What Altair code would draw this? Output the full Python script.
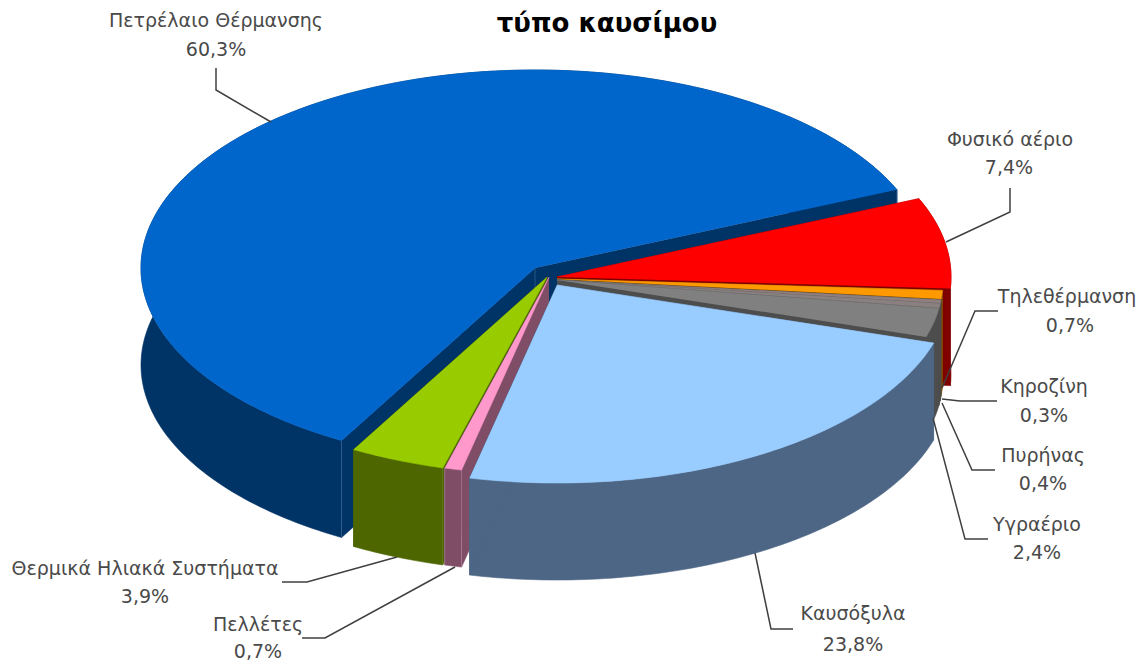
import math
import altair as alt
import pandas as pd

# ---- values ----
names = ["Πετρέλαιο Θέρμανσης", "Φυσικό αέριο", "Τηλεθέρμανση", "Κηροζίνη", "Πυρήνας",
         "Υγραέριο", "Καυσόξυλα", "Πελλέτες", "Θερμικά Ηλιακά Συστήματα"]
shares = [60.3, 7.4, 0.7, 0.3, 0.4, 2.4, 23.8, 0.7, 3.9]
share_text = ["60,3%", "7,4%", "0,7%", "0,3%", "0,4%", "2,4%", "23,8%", "0,7%", "3,9%"]
top_colors = ["#0066CC", "#FF0000", "#FF9900", "#8F7F7F", "#8A8080", "#808080", "#99CCFF", "#FF99CC", "#99CC00"]
wall_colors = ["#003366", "#800000", "#805000", "#4D4D4D", "#4D4D4D", "#4D4D4D", "#4D6685", "#804D66", "#4D6600"]
title_text = "τύπο καυσίμου"

# ---- layout of the 3-D pie (pixels of the page) ----
RX, RY, DEPTH, START = 394, 198, 97, 240.6
centers = [(535, 268), (557, 277), (557, 279), (557, 280), (557, 280), (557, 280), (557, 285), (549, 277), (547, 277)]
radius_scale = [1, 1, .98, .98, .98, .98, 1, 1, 1]
draw_order = [0, 1, 2, 3, 4, 5, 8, 7, 6]
seam_colors = {0: "#3F6F9F", 7: "#B08AA0"}

label_pos = [(216, 21, 216, 50), (1010, 140, 1009, 168), (1067, 297, 1070, 326), (1044, 387, 1044, 416),
             (1043, 456, 1043, 484), (1037, 525, 1037, 553), (853, 614, 853, 645), (258, 625, 258, 652),
             (145, 569, 145, 597)]
leaders = [[(216, 68), (216, 90), (271, 122)],
           [(1010, 188), (1010, 212), (946, 242)],
           [(998, 311), (975, 311), (942, 388)],
           [(997, 401), (960, 401), (942, 399)],
           [(995, 470), (972, 470), (942, 403)],
           [(988, 539), (965, 539), (933, 418)],
           [(793, 629), (771, 629), (755, 553)],
           [(302, 638), (325, 638), (455, 567)],
           [(282, 582), (307, 582), (397, 557)]]

# ---- build the slices from the shares ----
total = sum(shares)
angles = []
a = START
for s in shares:
    b = a - s / total * 360
    angles.append((a, b))
    a = b

rows = []
gid = 0
def poly(points, color):
    global gid
    gid += 1
    for k, (px, py) in enumerate(points):
        rows.append({"g": gid, "k": k, "px": px, "py": py, "c": color})

for i in draw_order:
    cx, cy = centers[i]
    q = radius_scale[i]
    a0, a1 = angles[i]
    n = max(2, int(abs(a0 - a1)) + 2)
    arc = []
    for j in range(n + 1):
        t = math.radians(a0 + (a1 - a0) * j / n)
        arc.append((cx + q * RX * math.cos(t), cy - q * RY * math.sin(t)))
    low = [(x, y + DEPTH) for x, y in arc]
    tip = (cx, cy)
    tipl = (cx, cy + DEPTH)
    poly(arc + low[::-1], wall_colors[i])
    poly([tip, arc[0], low[0], tipl], wall_colors[i])
    poly([tip, arc[-1], low[-1], tipl], wall_colors[i])
    if i in seam_colors:
        poly([arc[-1], low[-1]], seam_colors[i])
        poly([arc[0], low[0]], seam_colors[i])
        if i == 0:
            poly([tip, (cx, cy + 22)], seam_colors[i])
    poly([tip] + arc, top_colors[i])

poly_df = pd.DataFrame(rows)

lead_rows = []
for i, pts in enumerate(leaders):
    for k, (px, py) in enumerate(pts):
        lead_rows.append({"g": i, "k": k, "px": px, "py": py})
lead_df = pd.DataFrame(lead_rows)

text_rows = []
for i, (nx, ny, vx, vy) in enumerate(label_pos):
    text_rows.append({"t": names[i], "px": nx, "py": ny})
    text_rows.append({"t": share_text[i], "px": vx, "py": vy})
text_df = pd.DataFrame(text_rows)
title_df = pd.DataFrame([{"t": title_text, "px": 607, "py": 32}])

W, H = 1131, 654
X = alt.X("px:Q", axis=None, scale=alt.Scale(domain=[8, 8 + W], nice=False, zero=False))
Y = alt.Y("py:Q", axis=None, scale=alt.Scale(domain=[8 + H, 8], nice=False, zero=False))

pie = alt.Chart(poly_df).mark_line(filled=True, strokeWidth=0.6, interpolate="linear").encode(
    x=X, y=Y, detail="g:N", order="k:Q",
    fill=alt.Fill("c:N", scale=None), stroke=alt.Stroke("c:N", scale=None))
lines = alt.Chart(lead_df).mark_line(color="#404040", strokeWidth=1.5).encode(
    x=X, y=Y, detail="g:N", order="k:Q")
labels = alt.Chart(text_df).mark_text(font="DejaVu Sans", fontSize=19, color="#4a4a4a", align="center",
                                      baseline="middle").encode(x=X, y=Y, text="t:N")
title = alt.Chart(title_df).mark_text(font="DejaVu Sans", fontSize=26, fontWeight="bold", color="#000000",
                                      align="center", baseline="alphabetic").encode(x=X, y=Y, text="t:N")

chart = alt.layer(pie, lines, labels, title).properties(
    width=W, height=H, padding=0, background="#ffffff", autosize=alt.AutoSizeParams(type="none")
).configure_view(stroke=None)

chart.save("out.html", embed_options={"renderer": "svg", "actions": False})
